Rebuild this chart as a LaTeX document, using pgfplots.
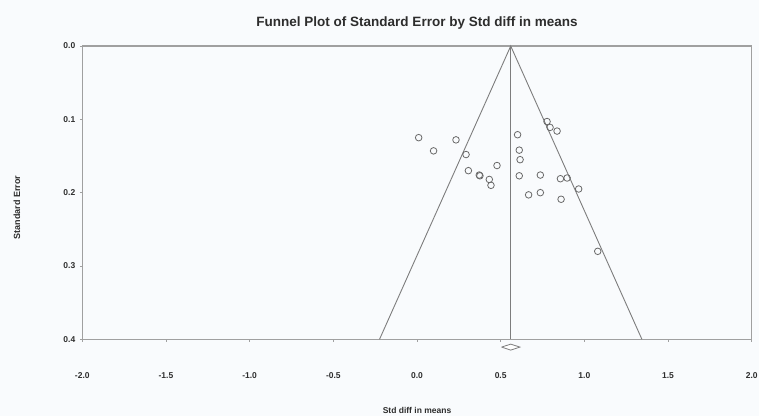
\documentclass[border=0pt]{standalone}
\usepackage{pgfplots}
\usepackage{pgfplotstable}
\pgfplotsset{compat=1.18}
\usepackage{fontspec}
\setmainfont{Liberation Sans}
\definecolor{bg}{RGB}{249,251,253}
\definecolor{ln}{RGB}{125,125,125}
\definecolor{fr}{RGB}{160,160,160}
\definecolor{mk}{RGB}{105,105,105}
\definecolor{tx}{RGB}{45,45,45}

\pgfplotstableread{
x y
0.010 0.125
0.099 0.143
0.233 0.128
0.293 0.148
0.307 0.170
0.372 0.176
0.376 0.177
0.432 0.182
0.442 0.190
0.478 0.163
0.601 0.121
0.611 0.142
0.616 0.155
0.611 0.177
0.667 0.203
0.737 0.176
0.737 0.200
0.777 0.103
0.795 0.111
0.837 0.116
0.857 0.181
0.897 0.180
0.861 0.209
0.966 0.195
1.080 0.280
}\studies

\begin{document}
\begin{tikzpicture}
\useasboundingbox[fill=bg] (-82.3pt,-76.7pt) rectangle (676.7pt,339.3pt);
\begin{axis}[
  at={(0pt,0pt)}, anchor=south west,
  scale only axis, width=669.4pt, height=293.3pt,
  xmin=-2, xmax=2, ymin=0, ymax=0.4, y dir=reverse,
  clip=false,
  xtick={-2,-1.5,-1,-0.5,0,0.5,1,1.5,2},
  ytick={0,0.1,0.2,0.3,0.4},
  tick pos=left,
  tick align=outside,
  major tick length=2.5pt,
  tick style={fr, line width=0.8pt},
  axis line style={fr, line width=1.3pt},
  /pgf/number format/.cd, fixed, fixed zerofill, precision=1, assume math mode=true,
  /pgfplots/.cd,
  ticklabel style={font=\fontsize{8.5}{10}\selectfont\bfseries, text=tx},
  xticklabel style={yshift=-27pt},
  yticklabel style={xshift=-1pt},
  title={Funnel Plot of Standard Error by Std diff in means},
  title style={font=\fontsize{13.5}{16}\selectfont\bfseries, text=tx, at={(axis description cs:0.5,1)}, anchor=center, yshift=17pt},
  xlabel={Std diff in means},
  xlabel style={font=\fontsize{8.5}{10}\selectfont\bfseries, text=tx, at={(axis description cs:0.5,0)}, anchor=center, yshift=-70.7pt},
  ylabel={Standard Error},
  ylabel style={font=\fontsize{9}{11}\selectfont\bfseries, text=tx, at={(axis description cs:-0.0976,0.45)}, anchor=center},
]
\addplot[ln, line width=0.9pt] coordinates {(-0.224,0.4) (0.56,0) (1.344,0.4)};
\addplot[ln, line width=0.9pt] coordinates {(0.56,0) (0.56,0.4)};
\addplot[only marks, mark=o, mark size=3.3pt, mk, mark options={line width=0.8pt}] table {\studies};
\addplot[ln, line width=0.8pt, fill=white] coordinates {(0.505,0.4106) (0.56,0.4066) (0.615,0.4106) (0.56,0.4147) (0.505,0.4106)};
\end{axis}
\end{tikzpicture}
\end{document}
